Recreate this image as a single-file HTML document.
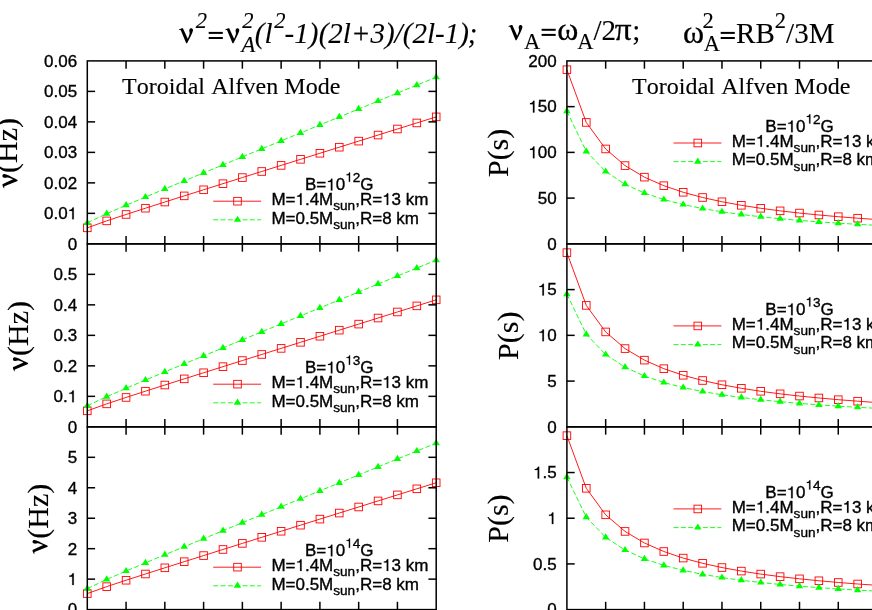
<!DOCTYPE html>
<html><head><meta charset="utf-8"><title>Toroidal Alfven Mode</title>
<style>html,body{margin:0;padding:0;background:#fff;overflow:hidden}svg{display:block;will-change:transform}text{font-kerning:none}text{fill:#000;stroke:#000;stroke-width:0.35px}text[font-family*="Serif"]{stroke-width:0.12px}</style>
</head><body>
<svg width="872" height="610" viewBox="0 0 872 610">
<rect width="100%" height="100%" fill="#fff"/>
<polyline fill="none" stroke="#ff0000" stroke-width="0.9" points="87.30,227.83 106.68,220.88 126.07,214.46 145.45,208.21 164.83,202.03 184.22,195.89 203.60,189.77 222.98,183.67 242.37,177.58 261.75,171.49 281.13,165.41 300.52,159.34 319.90,153.27 339.28,147.20 358.67,141.13 378.05,135.06 397.43,129.00 416.82,122.94 436.20,116.87"/>
<rect x="83.50" y="224.03" width="7.6" height="7.6" fill="none" stroke="#ff0000" stroke-width="0.9"/>
<rect x="102.88" y="217.08" width="7.6" height="7.6" fill="none" stroke="#ff0000" stroke-width="0.9"/>
<rect x="122.27" y="210.66" width="7.6" height="7.6" fill="none" stroke="#ff0000" stroke-width="0.9"/>
<rect x="141.65" y="204.41" width="7.6" height="7.6" fill="none" stroke="#ff0000" stroke-width="0.9"/>
<rect x="161.03" y="198.23" width="7.6" height="7.6" fill="none" stroke="#ff0000" stroke-width="0.9"/>
<rect x="180.42" y="192.09" width="7.6" height="7.6" fill="none" stroke="#ff0000" stroke-width="0.9"/>
<rect x="199.80" y="185.97" width="7.6" height="7.6" fill="none" stroke="#ff0000" stroke-width="0.9"/>
<rect x="219.18" y="179.87" width="7.6" height="7.6" fill="none" stroke="#ff0000" stroke-width="0.9"/>
<rect x="238.57" y="173.78" width="7.6" height="7.6" fill="none" stroke="#ff0000" stroke-width="0.9"/>
<rect x="257.95" y="167.69" width="7.6" height="7.6" fill="none" stroke="#ff0000" stroke-width="0.9"/>
<rect x="277.33" y="161.61" width="7.6" height="7.6" fill="none" stroke="#ff0000" stroke-width="0.9"/>
<rect x="296.72" y="155.54" width="7.6" height="7.6" fill="none" stroke="#ff0000" stroke-width="0.9"/>
<rect x="316.10" y="149.47" width="7.6" height="7.6" fill="none" stroke="#ff0000" stroke-width="0.9"/>
<rect x="335.48" y="143.40" width="7.6" height="7.6" fill="none" stroke="#ff0000" stroke-width="0.9"/>
<rect x="354.87" y="137.33" width="7.6" height="7.6" fill="none" stroke="#ff0000" stroke-width="0.9"/>
<rect x="374.25" y="131.26" width="7.6" height="7.6" fill="none" stroke="#ff0000" stroke-width="0.9"/>
<rect x="393.63" y="125.20" width="7.6" height="7.6" fill="none" stroke="#ff0000" stroke-width="0.9"/>
<rect x="413.02" y="119.14" width="7.6" height="7.6" fill="none" stroke="#ff0000" stroke-width="0.9"/>
<rect x="432.40" y="113.07" width="7.6" height="7.6" fill="none" stroke="#ff0000" stroke-width="0.9"/>
<polyline fill="none" stroke="#00ff00" stroke-width="0.9" stroke-dasharray="5 2.33" points="87.30,222.83 106.68,213.69 126.07,205.27 145.45,197.06 164.83,188.95 184.22,180.89 203.60,172.86 222.98,164.85 242.37,156.86 261.75,148.87 281.13,140.89 300.52,132.92 319.90,124.95 339.28,116.98 358.67,109.01 378.05,101.05 397.43,93.09 416.82,85.13 436.20,77.17"/>
<path d="M91.00 224.88l-3.7 -6.2l-3.7 6.2z" fill="#00ff00"/>
<path d="M110.38 215.74l-3.7 -6.2l-3.7 6.2z" fill="#00ff00"/>
<path d="M129.77 207.32l-3.7 -6.2l-3.7 6.2z" fill="#00ff00"/>
<path d="M149.15 199.11l-3.7 -6.2l-3.7 6.2z" fill="#00ff00"/>
<path d="M168.53 191.00l-3.7 -6.2l-3.7 6.2z" fill="#00ff00"/>
<path d="M187.92 182.94l-3.7 -6.2l-3.7 6.2z" fill="#00ff00"/>
<path d="M207.30 174.91l-3.7 -6.2l-3.7 6.2z" fill="#00ff00"/>
<path d="M226.68 166.90l-3.7 -6.2l-3.7 6.2z" fill="#00ff00"/>
<path d="M246.07 158.91l-3.7 -6.2l-3.7 6.2z" fill="#00ff00"/>
<path d="M265.45 150.92l-3.7 -6.2l-3.7 6.2z" fill="#00ff00"/>
<path d="M284.83 142.94l-3.7 -6.2l-3.7 6.2z" fill="#00ff00"/>
<path d="M304.22 134.97l-3.7 -6.2l-3.7 6.2z" fill="#00ff00"/>
<path d="M323.60 127.00l-3.7 -6.2l-3.7 6.2z" fill="#00ff00"/>
<path d="M342.98 119.03l-3.7 -6.2l-3.7 6.2z" fill="#00ff00"/>
<path d="M362.37 111.06l-3.7 -6.2l-3.7 6.2z" fill="#00ff00"/>
<path d="M381.75 103.10l-3.7 -6.2l-3.7 6.2z" fill="#00ff00"/>
<path d="M401.13 95.14l-3.7 -6.2l-3.7 6.2z" fill="#00ff00"/>
<path d="M420.52 87.18l-3.7 -6.2l-3.7 6.2z" fill="#00ff00"/>
<path d="M439.90 79.22l-3.7 -6.2l-3.7 6.2z" fill="#00ff00"/>
<text x="305.00" y="190.40" font-family='"Liberation Sans", sans-serif' font-size="17">B=</text>
<path d="M332.37 190.40L330.87 190.40L330.87 182.07L327.98 182.07L327.98 181.03C329.67 180.99 330.72 180.51 331.20 178.70L332.37 178.70Z" fill="#000" stroke="#000" stroke-width="0.2"/>
<text x="335.72" y="190.40" font-family='"Liberation Sans", sans-serif' font-size="17">0</text>
<path d="M350.06 181.80L348.86 181.80L348.86 175.14L346.55 175.14L346.55 174.30C347.90 174.27 348.74 173.88 349.12 172.44L350.06 172.44Z" fill="#000" stroke="#000" stroke-width="0.2"/>
<text x="352.74" y="181.80" font-family='"Liberation Sans", sans-serif' font-size="13.6">2</text>
<text x="360.30" y="190.40" font-family='"Liberation Sans", sans-serif' font-size="17">G</text>
<line x1="213.2" y1="201.2" x2="261.1" y2="201.2" stroke="#ff0000" stroke-width="0.9"/>
<rect x="233.70" y="197.40" width="7.6" height="7.6" fill="none" stroke="#ff0000" stroke-width="0.9"/>
<text x="271.40" y="205.00" font-family='"Liberation Sans", sans-serif' font-size="17">M=</text>
<path d="M301.59 205.00L300.10 205.00L300.10 196.67L297.21 196.67L297.21 195.63C298.89 195.59 299.95 195.11 300.42 193.30L301.59 193.30Z" fill="#000" stroke="#000" stroke-width="0.2"/>
<text x="304.94" y="205.00" font-family='"Liberation Sans", sans-serif' font-size="17">.4M</text>
<text x="333.28" y="210.20" font-family='"Liberation Sans", sans-serif' font-size="13.6">sun</text>
<text x="355.21" y="205.00" font-family='"Liberation Sans", sans-serif' font-size="17">,R=</text>
<path d="M388.24 205.00L386.74 205.00L386.74 196.67L383.86 196.67L383.86 195.63C385.54 195.59 386.59 195.11 387.07 193.30L388.24 193.30Z" fill="#000" stroke="#000" stroke-width="0.2"/>
<text x="391.59" y="205.00" font-family='"Liberation Sans", sans-serif' font-size="17">3 km</text>
<line x1="213.2" y1="219.8" x2="261.1" y2="219.8" stroke="#00ff00" stroke-width="0.9" stroke-dasharray="5 2.33"/>
<path d="M241.20 221.85l-3.7 -6.2l-3.7 6.2z" fill="#00ff00"/>
<text x="271.40" y="223.60" font-family='"Liberation Sans", sans-serif' font-size="17">M=0.5M</text>
<text x="333.28" y="228.80" font-family='"Liberation Sans", sans-serif' font-size="13.6">sun</text>
<text x="355.21" y="223.60" font-family='"Liberation Sans", sans-serif' font-size="17">,R=8 km</text>
<polyline fill="none" stroke="#ff0000" stroke-width="0.9" points="566.90,69.71 586.28,122.44 605.67,148.95 625.05,165.60 644.43,177.16 663.82,185.70 683.20,192.27 702.58,197.50 721.97,201.76 741.35,205.30 760.73,208.29 780.12,210.85 799.50,213.06 818.88,214.99 838.27,216.70 857.65,218.21 877.03,219.56 896.42,220.78 915.80,221.88"/>
<rect x="563.10" y="65.91" width="7.6" height="7.6" fill="none" stroke="#ff0000" stroke-width="0.9"/>
<rect x="582.48" y="118.64" width="7.6" height="7.6" fill="none" stroke="#ff0000" stroke-width="0.9"/>
<rect x="601.87" y="145.15" width="7.6" height="7.6" fill="none" stroke="#ff0000" stroke-width="0.9"/>
<rect x="621.25" y="161.80" width="7.6" height="7.6" fill="none" stroke="#ff0000" stroke-width="0.9"/>
<rect x="640.63" y="173.36" width="7.6" height="7.6" fill="none" stroke="#ff0000" stroke-width="0.9"/>
<rect x="660.02" y="181.90" width="7.6" height="7.6" fill="none" stroke="#ff0000" stroke-width="0.9"/>
<rect x="679.40" y="188.47" width="7.6" height="7.6" fill="none" stroke="#ff0000" stroke-width="0.9"/>
<rect x="698.78" y="193.70" width="7.6" height="7.6" fill="none" stroke="#ff0000" stroke-width="0.9"/>
<rect x="718.17" y="197.96" width="7.6" height="7.6" fill="none" stroke="#ff0000" stroke-width="0.9"/>
<rect x="737.55" y="201.50" width="7.6" height="7.6" fill="none" stroke="#ff0000" stroke-width="0.9"/>
<rect x="756.93" y="204.49" width="7.6" height="7.6" fill="none" stroke="#ff0000" stroke-width="0.9"/>
<rect x="776.32" y="207.05" width="7.6" height="7.6" fill="none" stroke="#ff0000" stroke-width="0.9"/>
<rect x="795.70" y="209.26" width="7.6" height="7.6" fill="none" stroke="#ff0000" stroke-width="0.9"/>
<rect x="815.08" y="211.19" width="7.6" height="7.6" fill="none" stroke="#ff0000" stroke-width="0.9"/>
<rect x="834.47" y="212.90" width="7.6" height="7.6" fill="none" stroke="#ff0000" stroke-width="0.9"/>
<rect x="853.85" y="214.41" width="7.6" height="7.6" fill="none" stroke="#ff0000" stroke-width="0.9"/>
<rect x="873.23" y="215.76" width="7.6" height="7.6" fill="none" stroke="#ff0000" stroke-width="0.9"/>
<rect x="892.62" y="216.98" width="7.6" height="7.6" fill="none" stroke="#ff0000" stroke-width="0.9"/>
<rect x="912.00" y="218.08" width="7.6" height="7.6" fill="none" stroke="#ff0000" stroke-width="0.9"/>
<polyline fill="none" stroke="#00ff00" stroke-width="0.9" stroke-dasharray="5 2.33" points="566.90,111.19 586.28,151.35 605.67,171.56 625.05,184.24 644.43,193.04 663.82,199.55 683.20,204.56 702.58,208.54 721.97,211.79 741.35,214.48 760.73,216.76 780.12,218.71 799.50,220.39 818.88,221.87 838.27,223.16 857.65,224.32 877.03,225.35 896.42,226.28 915.80,227.12"/>
<path d="M570.60 113.24l-3.7 -6.2l-3.7 6.2z" fill="#00ff00"/>
<path d="M589.98 153.40l-3.7 -6.2l-3.7 6.2z" fill="#00ff00"/>
<path d="M609.37 173.61l-3.7 -6.2l-3.7 6.2z" fill="#00ff00"/>
<path d="M628.75 186.29l-3.7 -6.2l-3.7 6.2z" fill="#00ff00"/>
<path d="M648.13 195.09l-3.7 -6.2l-3.7 6.2z" fill="#00ff00"/>
<path d="M667.52 201.60l-3.7 -6.2l-3.7 6.2z" fill="#00ff00"/>
<path d="M686.90 206.61l-3.7 -6.2l-3.7 6.2z" fill="#00ff00"/>
<path d="M706.28 210.59l-3.7 -6.2l-3.7 6.2z" fill="#00ff00"/>
<path d="M725.67 213.84l-3.7 -6.2l-3.7 6.2z" fill="#00ff00"/>
<path d="M745.05 216.53l-3.7 -6.2l-3.7 6.2z" fill="#00ff00"/>
<path d="M764.43 218.81l-3.7 -6.2l-3.7 6.2z" fill="#00ff00"/>
<path d="M783.82 220.76l-3.7 -6.2l-3.7 6.2z" fill="#00ff00"/>
<path d="M803.20 222.44l-3.7 -6.2l-3.7 6.2z" fill="#00ff00"/>
<path d="M822.58 223.92l-3.7 -6.2l-3.7 6.2z" fill="#00ff00"/>
<path d="M841.97 225.21l-3.7 -6.2l-3.7 6.2z" fill="#00ff00"/>
<path d="M861.35 226.37l-3.7 -6.2l-3.7 6.2z" fill="#00ff00"/>
<path d="M880.73 227.40l-3.7 -6.2l-3.7 6.2z" fill="#00ff00"/>
<path d="M900.12 228.33l-3.7 -6.2l-3.7 6.2z" fill="#00ff00"/>
<path d="M919.50 229.17l-3.7 -6.2l-3.7 6.2z" fill="#00ff00"/>
<text x="765.30" y="132.20" font-family='"Liberation Sans", sans-serif' font-size="17">B=</text>
<path d="M792.67 132.20L791.17 132.20L791.17 123.87L788.28 123.87L788.28 122.83C789.97 122.79 791.02 122.31 791.50 120.50L792.67 120.50Z" fill="#000" stroke="#000" stroke-width="0.2"/>
<text x="796.02" y="132.20" font-family='"Liberation Sans", sans-serif' font-size="17">0</text>
<path d="M810.36 123.60L809.16 123.60L809.16 116.94L806.85 116.94L806.85 116.10C808.20 116.07 809.04 115.68 809.42 114.24L810.36 114.24Z" fill="#000" stroke="#000" stroke-width="0.2"/>
<text x="813.04" y="123.60" font-family='"Liberation Sans", sans-serif' font-size="13.6">2</text>
<text x="820.60" y="132.20" font-family='"Liberation Sans", sans-serif' font-size="17">G</text>
<line x1="673.5" y1="143.0" x2="721.4" y2="143.0" stroke="#ff0000" stroke-width="0.9"/>
<rect x="694.00" y="139.20" width="7.6" height="7.6" fill="none" stroke="#ff0000" stroke-width="0.9"/>
<text x="731.70" y="146.80" font-family='"Liberation Sans", sans-serif' font-size="17">M=</text>
<path d="M761.89 146.80L760.40 146.80L760.40 138.47L757.51 138.47L757.51 137.43C759.19 137.39 760.25 136.91 760.72 135.10L761.89 135.10Z" fill="#000" stroke="#000" stroke-width="0.2"/>
<text x="765.24" y="146.80" font-family='"Liberation Sans", sans-serif' font-size="17">.4M</text>
<text x="793.58" y="152.00" font-family='"Liberation Sans", sans-serif' font-size="13.6">sun</text>
<text x="815.51" y="146.80" font-family='"Liberation Sans", sans-serif' font-size="17">,R=</text>
<path d="M848.54 146.80L847.04 146.80L847.04 138.47L844.16 138.47L844.16 137.43C845.84 137.39 846.89 136.91 847.37 135.10L848.54 135.10Z" fill="#000" stroke="#000" stroke-width="0.2"/>
<text x="851.89" y="146.80" font-family='"Liberation Sans", sans-serif' font-size="17">3 km</text>
<line x1="673.5" y1="161.6" x2="721.4" y2="161.6" stroke="#00ff00" stroke-width="0.9" stroke-dasharray="5 2.33"/>
<path d="M701.50 163.65l-3.7 -6.2l-3.7 6.2z" fill="#00ff00"/>
<text x="731.70" y="165.40" font-family='"Liberation Sans", sans-serif' font-size="17">M=0.5M</text>
<text x="793.58" y="170.60" font-family='"Liberation Sans", sans-serif' font-size="13.6">sun</text>
<text x="815.51" y="165.40" font-family='"Liberation Sans", sans-serif' font-size="17">,R=8 km</text>
<polyline fill="none" stroke="#ff0000" stroke-width="0.9" points="87.30,410.83 106.68,403.87 126.07,397.45 145.45,391.20 164.83,385.02 184.22,378.87 203.60,372.76 222.98,366.65 242.37,360.56 261.75,354.47 281.13,348.39 300.52,342.32 319.90,336.24 339.28,330.17 358.67,324.10 378.05,318.03 397.43,311.97 416.82,305.90 436.20,299.84"/>
<rect x="83.50" y="407.03" width="7.6" height="7.6" fill="none" stroke="#ff0000" stroke-width="0.9"/>
<rect x="102.88" y="400.07" width="7.6" height="7.6" fill="none" stroke="#ff0000" stroke-width="0.9"/>
<rect x="122.27" y="393.65" width="7.6" height="7.6" fill="none" stroke="#ff0000" stroke-width="0.9"/>
<rect x="141.65" y="387.40" width="7.6" height="7.6" fill="none" stroke="#ff0000" stroke-width="0.9"/>
<rect x="161.03" y="381.22" width="7.6" height="7.6" fill="none" stroke="#ff0000" stroke-width="0.9"/>
<rect x="180.42" y="375.07" width="7.6" height="7.6" fill="none" stroke="#ff0000" stroke-width="0.9"/>
<rect x="199.80" y="368.96" width="7.6" height="7.6" fill="none" stroke="#ff0000" stroke-width="0.9"/>
<rect x="219.18" y="362.85" width="7.6" height="7.6" fill="none" stroke="#ff0000" stroke-width="0.9"/>
<rect x="238.57" y="356.76" width="7.6" height="7.6" fill="none" stroke="#ff0000" stroke-width="0.9"/>
<rect x="257.95" y="350.67" width="7.6" height="7.6" fill="none" stroke="#ff0000" stroke-width="0.9"/>
<rect x="277.33" y="344.59" width="7.6" height="7.6" fill="none" stroke="#ff0000" stroke-width="0.9"/>
<rect x="296.72" y="338.52" width="7.6" height="7.6" fill="none" stroke="#ff0000" stroke-width="0.9"/>
<rect x="316.10" y="332.44" width="7.6" height="7.6" fill="none" stroke="#ff0000" stroke-width="0.9"/>
<rect x="335.48" y="326.37" width="7.6" height="7.6" fill="none" stroke="#ff0000" stroke-width="0.9"/>
<rect x="354.87" y="320.30" width="7.6" height="7.6" fill="none" stroke="#ff0000" stroke-width="0.9"/>
<rect x="374.25" y="314.23" width="7.6" height="7.6" fill="none" stroke="#ff0000" stroke-width="0.9"/>
<rect x="393.63" y="308.17" width="7.6" height="7.6" fill="none" stroke="#ff0000" stroke-width="0.9"/>
<rect x="413.02" y="302.10" width="7.6" height="7.6" fill="none" stroke="#ff0000" stroke-width="0.9"/>
<rect x="432.40" y="296.04" width="7.6" height="7.6" fill="none" stroke="#ff0000" stroke-width="0.9"/>
<polyline fill="none" stroke="#00ff00" stroke-width="0.9" stroke-dasharray="5 2.33" points="87.30,405.82 106.68,396.69 126.07,388.26 145.45,380.05 164.83,371.94 184.22,363.87 203.60,355.84 222.98,347.83 242.37,339.83 261.75,331.84 281.13,323.86 300.52,315.89 319.90,307.91 339.28,299.94 358.67,291.98 378.05,284.01 397.43,276.05 416.82,268.09 436.20,260.13"/>
<path d="M91.00 407.87l-3.7 -6.2l-3.7 6.2z" fill="#00ff00"/>
<path d="M110.38 398.74l-3.7 -6.2l-3.7 6.2z" fill="#00ff00"/>
<path d="M129.77 390.31l-3.7 -6.2l-3.7 6.2z" fill="#00ff00"/>
<path d="M149.15 382.10l-3.7 -6.2l-3.7 6.2z" fill="#00ff00"/>
<path d="M168.53 373.99l-3.7 -6.2l-3.7 6.2z" fill="#00ff00"/>
<path d="M187.92 365.92l-3.7 -6.2l-3.7 6.2z" fill="#00ff00"/>
<path d="M207.30 357.89l-3.7 -6.2l-3.7 6.2z" fill="#00ff00"/>
<path d="M226.68 349.88l-3.7 -6.2l-3.7 6.2z" fill="#00ff00"/>
<path d="M246.07 341.88l-3.7 -6.2l-3.7 6.2z" fill="#00ff00"/>
<path d="M265.45 333.89l-3.7 -6.2l-3.7 6.2z" fill="#00ff00"/>
<path d="M284.83 325.91l-3.7 -6.2l-3.7 6.2z" fill="#00ff00"/>
<path d="M304.22 317.94l-3.7 -6.2l-3.7 6.2z" fill="#00ff00"/>
<path d="M323.60 309.96l-3.7 -6.2l-3.7 6.2z" fill="#00ff00"/>
<path d="M342.98 301.99l-3.7 -6.2l-3.7 6.2z" fill="#00ff00"/>
<path d="M362.37 294.03l-3.7 -6.2l-3.7 6.2z" fill="#00ff00"/>
<path d="M381.75 286.06l-3.7 -6.2l-3.7 6.2z" fill="#00ff00"/>
<path d="M401.13 278.10l-3.7 -6.2l-3.7 6.2z" fill="#00ff00"/>
<path d="M420.52 270.14l-3.7 -6.2l-3.7 6.2z" fill="#00ff00"/>
<path d="M439.90 262.18l-3.7 -6.2l-3.7 6.2z" fill="#00ff00"/>
<text x="305.00" y="373.35" font-family='"Liberation Sans", sans-serif' font-size="17">B=</text>
<path d="M332.37 373.35L330.87 373.35L330.87 365.02L327.98 365.02L327.98 363.98C329.67 363.94 330.72 363.46 331.20 361.65L332.37 361.65Z" fill="#000" stroke="#000" stroke-width="0.2"/>
<text x="335.72" y="373.35" font-family='"Liberation Sans", sans-serif' font-size="17">0</text>
<path d="M350.06 364.75L348.86 364.75L348.86 358.09L346.55 358.09L346.55 357.25C347.90 357.22 348.74 356.83 349.12 355.39L350.06 355.39Z" fill="#000" stroke="#000" stroke-width="0.2"/>
<text x="352.74" y="364.75" font-family='"Liberation Sans", sans-serif' font-size="13.6">3</text>
<text x="360.30" y="373.35" font-family='"Liberation Sans", sans-serif' font-size="17">G</text>
<line x1="213.2" y1="384.2" x2="261.1" y2="384.2" stroke="#ff0000" stroke-width="0.9"/>
<rect x="233.70" y="380.35" width="7.6" height="7.6" fill="none" stroke="#ff0000" stroke-width="0.9"/>
<text x="271.40" y="387.95" font-family='"Liberation Sans", sans-serif' font-size="17">M=</text>
<path d="M301.59 387.95L300.10 387.95L300.10 379.62L297.21 379.62L297.21 378.58C298.89 378.54 299.95 378.06 300.42 376.25L301.59 376.25Z" fill="#000" stroke="#000" stroke-width="0.2"/>
<text x="304.94" y="387.95" font-family='"Liberation Sans", sans-serif' font-size="17">.4M</text>
<text x="333.28" y="393.15" font-family='"Liberation Sans", sans-serif' font-size="13.6">sun</text>
<text x="355.21" y="387.95" font-family='"Liberation Sans", sans-serif' font-size="17">,R=</text>
<path d="M388.24 387.95L386.74 387.95L386.74 379.62L383.86 379.62L383.86 378.58C385.54 378.54 386.59 378.06 387.07 376.25L388.24 376.25Z" fill="#000" stroke="#000" stroke-width="0.2"/>
<text x="391.59" y="387.95" font-family='"Liberation Sans", sans-serif' font-size="17">3 km</text>
<line x1="213.2" y1="402.8" x2="261.1" y2="402.8" stroke="#00ff00" stroke-width="0.9" stroke-dasharray="5 2.33"/>
<path d="M241.20 404.80l-3.7 -6.2l-3.7 6.2z" fill="#00ff00"/>
<text x="271.40" y="406.55" font-family='"Liberation Sans", sans-serif' font-size="17">M=0.5M</text>
<text x="333.28" y="411.75" font-family='"Liberation Sans", sans-serif' font-size="13.6">sun</text>
<text x="355.21" y="406.55" font-family='"Liberation Sans", sans-serif' font-size="17">,R=8 km</text>
<polyline fill="none" stroke="#ff0000" stroke-width="0.9" points="566.90,252.66 586.28,305.40 605.67,331.93 625.05,348.58 644.43,360.14 663.82,368.68 683.20,375.26 702.58,380.49 721.97,384.75 741.35,388.29 760.73,391.28 780.12,393.84 799.50,396.05 818.88,397.98 838.27,399.69 857.65,401.20 877.03,402.56 896.42,403.78 915.80,404.88"/>
<rect x="563.10" y="248.86" width="7.6" height="7.6" fill="none" stroke="#ff0000" stroke-width="0.9"/>
<rect x="582.48" y="301.60" width="7.6" height="7.6" fill="none" stroke="#ff0000" stroke-width="0.9"/>
<rect x="601.87" y="328.13" width="7.6" height="7.6" fill="none" stroke="#ff0000" stroke-width="0.9"/>
<rect x="621.25" y="344.78" width="7.6" height="7.6" fill="none" stroke="#ff0000" stroke-width="0.9"/>
<rect x="640.63" y="356.34" width="7.6" height="7.6" fill="none" stroke="#ff0000" stroke-width="0.9"/>
<rect x="660.02" y="364.88" width="7.6" height="7.6" fill="none" stroke="#ff0000" stroke-width="0.9"/>
<rect x="679.40" y="371.46" width="7.6" height="7.6" fill="none" stroke="#ff0000" stroke-width="0.9"/>
<rect x="698.78" y="376.69" width="7.6" height="7.6" fill="none" stroke="#ff0000" stroke-width="0.9"/>
<rect x="718.17" y="380.95" width="7.6" height="7.6" fill="none" stroke="#ff0000" stroke-width="0.9"/>
<rect x="737.55" y="384.49" width="7.6" height="7.6" fill="none" stroke="#ff0000" stroke-width="0.9"/>
<rect x="756.93" y="387.48" width="7.6" height="7.6" fill="none" stroke="#ff0000" stroke-width="0.9"/>
<rect x="776.32" y="390.04" width="7.6" height="7.6" fill="none" stroke="#ff0000" stroke-width="0.9"/>
<rect x="795.70" y="392.25" width="7.6" height="7.6" fill="none" stroke="#ff0000" stroke-width="0.9"/>
<rect x="815.08" y="394.18" width="7.6" height="7.6" fill="none" stroke="#ff0000" stroke-width="0.9"/>
<rect x="834.47" y="395.89" width="7.6" height="7.6" fill="none" stroke="#ff0000" stroke-width="0.9"/>
<rect x="853.85" y="397.40" width="7.6" height="7.6" fill="none" stroke="#ff0000" stroke-width="0.9"/>
<rect x="873.23" y="398.76" width="7.6" height="7.6" fill="none" stroke="#ff0000" stroke-width="0.9"/>
<rect x="892.62" y="399.98" width="7.6" height="7.6" fill="none" stroke="#ff0000" stroke-width="0.9"/>
<rect x="912.00" y="401.08" width="7.6" height="7.6" fill="none" stroke="#ff0000" stroke-width="0.9"/>
<polyline fill="none" stroke="#00ff00" stroke-width="0.9" stroke-dasharray="5 2.33" points="566.90,294.15 586.28,334.33 605.67,354.54 625.05,367.22 644.43,376.03 663.82,382.54 683.20,387.55 702.58,391.53 721.97,394.78 741.35,397.48 760.73,399.75 780.12,401.70 799.50,403.39 818.88,404.86 838.27,406.16 857.65,407.31 877.03,408.34 896.42,409.27 915.80,410.11"/>
<path d="M570.60 296.20l-3.7 -6.2l-3.7 6.2z" fill="#00ff00"/>
<path d="M589.98 336.38l-3.7 -6.2l-3.7 6.2z" fill="#00ff00"/>
<path d="M609.37 356.59l-3.7 -6.2l-3.7 6.2z" fill="#00ff00"/>
<path d="M628.75 369.27l-3.7 -6.2l-3.7 6.2z" fill="#00ff00"/>
<path d="M648.13 378.08l-3.7 -6.2l-3.7 6.2z" fill="#00ff00"/>
<path d="M667.52 384.59l-3.7 -6.2l-3.7 6.2z" fill="#00ff00"/>
<path d="M686.90 389.60l-3.7 -6.2l-3.7 6.2z" fill="#00ff00"/>
<path d="M706.28 393.58l-3.7 -6.2l-3.7 6.2z" fill="#00ff00"/>
<path d="M725.67 396.83l-3.7 -6.2l-3.7 6.2z" fill="#00ff00"/>
<path d="M745.05 399.53l-3.7 -6.2l-3.7 6.2z" fill="#00ff00"/>
<path d="M764.43 401.80l-3.7 -6.2l-3.7 6.2z" fill="#00ff00"/>
<path d="M783.82 403.75l-3.7 -6.2l-3.7 6.2z" fill="#00ff00"/>
<path d="M803.20 405.44l-3.7 -6.2l-3.7 6.2z" fill="#00ff00"/>
<path d="M822.58 406.91l-3.7 -6.2l-3.7 6.2z" fill="#00ff00"/>
<path d="M841.97 408.21l-3.7 -6.2l-3.7 6.2z" fill="#00ff00"/>
<path d="M861.35 409.36l-3.7 -6.2l-3.7 6.2z" fill="#00ff00"/>
<path d="M880.73 410.39l-3.7 -6.2l-3.7 6.2z" fill="#00ff00"/>
<path d="M900.12 411.32l-3.7 -6.2l-3.7 6.2z" fill="#00ff00"/>
<path d="M919.50 412.16l-3.7 -6.2l-3.7 6.2z" fill="#00ff00"/>
<text x="765.30" y="315.15" font-family='"Liberation Sans", sans-serif' font-size="17">B=</text>
<path d="M792.67 315.15L791.17 315.15L791.17 306.82L788.28 306.82L788.28 305.78C789.97 305.74 791.02 305.26 791.50 303.45L792.67 303.45Z" fill="#000" stroke="#000" stroke-width="0.2"/>
<text x="796.02" y="315.15" font-family='"Liberation Sans", sans-serif' font-size="17">0</text>
<path d="M810.36 306.55L809.16 306.55L809.16 299.89L806.85 299.89L806.85 299.05C808.20 299.02 809.04 298.63 809.42 297.19L810.36 297.19Z" fill="#000" stroke="#000" stroke-width="0.2"/>
<text x="813.04" y="306.55" font-family='"Liberation Sans", sans-serif' font-size="13.6">3</text>
<text x="820.60" y="315.15" font-family='"Liberation Sans", sans-serif' font-size="17">G</text>
<line x1="673.5" y1="325.9" x2="721.4" y2="325.9" stroke="#ff0000" stroke-width="0.9"/>
<rect x="694.00" y="322.15" width="7.6" height="7.6" fill="none" stroke="#ff0000" stroke-width="0.9"/>
<text x="731.70" y="329.75" font-family='"Liberation Sans", sans-serif' font-size="17">M=</text>
<path d="M761.89 329.75L760.40 329.75L760.40 321.42L757.51 321.42L757.51 320.38C759.19 320.34 760.25 319.86 760.72 318.05L761.89 318.05Z" fill="#000" stroke="#000" stroke-width="0.2"/>
<text x="765.24" y="329.75" font-family='"Liberation Sans", sans-serif' font-size="17">.4M</text>
<text x="793.58" y="334.95" font-family='"Liberation Sans", sans-serif' font-size="13.6">sun</text>
<text x="815.51" y="329.75" font-family='"Liberation Sans", sans-serif' font-size="17">,R=</text>
<path d="M848.54 329.75L847.04 329.75L847.04 321.42L844.16 321.42L844.16 320.38C845.84 320.34 846.89 319.86 847.37 318.05L848.54 318.05Z" fill="#000" stroke="#000" stroke-width="0.2"/>
<text x="851.89" y="329.75" font-family='"Liberation Sans", sans-serif' font-size="17">3 km</text>
<line x1="673.5" y1="344.6" x2="721.4" y2="344.6" stroke="#00ff00" stroke-width="0.9" stroke-dasharray="5 2.33"/>
<path d="M701.50 346.60l-3.7 -6.2l-3.7 6.2z" fill="#00ff00"/>
<text x="731.70" y="348.35" font-family='"Liberation Sans", sans-serif' font-size="17">M=0.5M</text>
<text x="793.58" y="353.55" font-family='"Liberation Sans", sans-serif' font-size="13.6">sun</text>
<text x="815.51" y="348.35" font-family='"Liberation Sans", sans-serif' font-size="17">,R=8 km</text>
<polyline fill="none" stroke="#ff0000" stroke-width="0.9" points="87.30,593.60 106.68,586.65 126.07,580.24 145.45,573.99 164.83,567.82 184.22,561.69 203.60,555.58 222.98,549.48 242.37,543.40 261.75,537.32 281.13,531.25 300.52,525.18 319.90,519.12 339.28,513.05 358.67,506.99 378.05,500.93 397.43,494.88 416.82,488.82 436.20,482.76"/>
<rect x="83.50" y="589.80" width="7.6" height="7.6" fill="none" stroke="#ff0000" stroke-width="0.9"/>
<rect x="102.88" y="582.85" width="7.6" height="7.6" fill="none" stroke="#ff0000" stroke-width="0.9"/>
<rect x="122.27" y="576.44" width="7.6" height="7.6" fill="none" stroke="#ff0000" stroke-width="0.9"/>
<rect x="141.65" y="570.19" width="7.6" height="7.6" fill="none" stroke="#ff0000" stroke-width="0.9"/>
<rect x="161.03" y="564.02" width="7.6" height="7.6" fill="none" stroke="#ff0000" stroke-width="0.9"/>
<rect x="180.42" y="557.89" width="7.6" height="7.6" fill="none" stroke="#ff0000" stroke-width="0.9"/>
<rect x="199.80" y="551.78" width="7.6" height="7.6" fill="none" stroke="#ff0000" stroke-width="0.9"/>
<rect x="219.18" y="545.68" width="7.6" height="7.6" fill="none" stroke="#ff0000" stroke-width="0.9"/>
<rect x="238.57" y="539.60" width="7.6" height="7.6" fill="none" stroke="#ff0000" stroke-width="0.9"/>
<rect x="257.95" y="533.52" width="7.6" height="7.6" fill="none" stroke="#ff0000" stroke-width="0.9"/>
<rect x="277.33" y="527.45" width="7.6" height="7.6" fill="none" stroke="#ff0000" stroke-width="0.9"/>
<rect x="296.72" y="521.38" width="7.6" height="7.6" fill="none" stroke="#ff0000" stroke-width="0.9"/>
<rect x="316.10" y="515.32" width="7.6" height="7.6" fill="none" stroke="#ff0000" stroke-width="0.9"/>
<rect x="335.48" y="509.25" width="7.6" height="7.6" fill="none" stroke="#ff0000" stroke-width="0.9"/>
<rect x="354.87" y="503.19" width="7.6" height="7.6" fill="none" stroke="#ff0000" stroke-width="0.9"/>
<rect x="374.25" y="497.13" width="7.6" height="7.6" fill="none" stroke="#ff0000" stroke-width="0.9"/>
<rect x="393.63" y="491.08" width="7.6" height="7.6" fill="none" stroke="#ff0000" stroke-width="0.9"/>
<rect x="413.02" y="485.02" width="7.6" height="7.6" fill="none" stroke="#ff0000" stroke-width="0.9"/>
<rect x="432.40" y="478.96" width="7.6" height="7.6" fill="none" stroke="#ff0000" stroke-width="0.9"/>
<polyline fill="none" stroke="#00ff00" stroke-width="0.9" stroke-dasharray="5 2.33" points="87.30,588.60 106.68,579.48 126.07,571.06 145.45,562.86 164.83,554.76 184.22,546.71 203.60,538.69 222.98,530.69 242.37,522.70 261.75,514.72 281.13,506.75 300.52,498.79 319.90,490.83 339.28,482.87 358.67,474.91 378.05,466.96 397.43,459.01 416.82,451.06 436.20,443.11"/>
<path d="M91.00 590.65l-3.7 -6.2l-3.7 6.2z" fill="#00ff00"/>
<path d="M110.38 581.53l-3.7 -6.2l-3.7 6.2z" fill="#00ff00"/>
<path d="M129.77 573.11l-3.7 -6.2l-3.7 6.2z" fill="#00ff00"/>
<path d="M149.15 564.91l-3.7 -6.2l-3.7 6.2z" fill="#00ff00"/>
<path d="M168.53 556.81l-3.7 -6.2l-3.7 6.2z" fill="#00ff00"/>
<path d="M187.92 548.76l-3.7 -6.2l-3.7 6.2z" fill="#00ff00"/>
<path d="M207.30 540.74l-3.7 -6.2l-3.7 6.2z" fill="#00ff00"/>
<path d="M226.68 532.74l-3.7 -6.2l-3.7 6.2z" fill="#00ff00"/>
<path d="M246.07 524.75l-3.7 -6.2l-3.7 6.2z" fill="#00ff00"/>
<path d="M265.45 516.77l-3.7 -6.2l-3.7 6.2z" fill="#00ff00"/>
<path d="M284.83 508.80l-3.7 -6.2l-3.7 6.2z" fill="#00ff00"/>
<path d="M304.22 500.84l-3.7 -6.2l-3.7 6.2z" fill="#00ff00"/>
<path d="M323.60 492.88l-3.7 -6.2l-3.7 6.2z" fill="#00ff00"/>
<path d="M342.98 484.92l-3.7 -6.2l-3.7 6.2z" fill="#00ff00"/>
<path d="M362.37 476.96l-3.7 -6.2l-3.7 6.2z" fill="#00ff00"/>
<path d="M381.75 469.01l-3.7 -6.2l-3.7 6.2z" fill="#00ff00"/>
<path d="M401.13 461.06l-3.7 -6.2l-3.7 6.2z" fill="#00ff00"/>
<path d="M420.52 453.11l-3.7 -6.2l-3.7 6.2z" fill="#00ff00"/>
<path d="M439.90 445.16l-3.7 -6.2l-3.7 6.2z" fill="#00ff00"/>
<text x="305.00" y="556.35" font-family='"Liberation Sans", sans-serif' font-size="17">B=</text>
<path d="M332.37 556.35L330.87 556.35L330.87 548.02L327.98 548.02L327.98 546.98C329.67 546.94 330.72 546.46 331.20 544.65L332.37 544.65Z" fill="#000" stroke="#000" stroke-width="0.2"/>
<text x="335.72" y="556.35" font-family='"Liberation Sans", sans-serif' font-size="17">0</text>
<path d="M350.06 547.75L348.86 547.75L348.86 541.09L346.55 541.09L346.55 540.25C347.90 540.22 348.74 539.83 349.12 538.39L350.06 538.39Z" fill="#000" stroke="#000" stroke-width="0.2"/>
<text x="352.74" y="547.75" font-family='"Liberation Sans", sans-serif' font-size="13.6">4</text>
<text x="360.30" y="556.35" font-family='"Liberation Sans", sans-serif' font-size="17">G</text>
<line x1="213.2" y1="567.2" x2="261.1" y2="567.2" stroke="#ff0000" stroke-width="0.9"/>
<rect x="233.70" y="563.35" width="7.6" height="7.6" fill="none" stroke="#ff0000" stroke-width="0.9"/>
<text x="271.40" y="570.95" font-family='"Liberation Sans", sans-serif' font-size="17">M=</text>
<path d="M301.59 570.95L300.10 570.95L300.10 562.62L297.21 562.62L297.21 561.58C298.89 561.54 299.95 561.06 300.42 559.25L301.59 559.25Z" fill="#000" stroke="#000" stroke-width="0.2"/>
<text x="304.94" y="570.95" font-family='"Liberation Sans", sans-serif' font-size="17">.4M</text>
<text x="333.28" y="576.15" font-family='"Liberation Sans", sans-serif' font-size="13.6">sun</text>
<text x="355.21" y="570.95" font-family='"Liberation Sans", sans-serif' font-size="17">,R=</text>
<path d="M388.24 570.95L386.74 570.95L386.74 562.62L383.86 562.62L383.86 561.58C385.54 561.54 386.59 561.06 387.07 559.25L388.24 559.25Z" fill="#000" stroke="#000" stroke-width="0.2"/>
<text x="391.59" y="570.95" font-family='"Liberation Sans", sans-serif' font-size="17">3 km</text>
<line x1="213.2" y1="585.8" x2="261.1" y2="585.8" stroke="#00ff00" stroke-width="0.9" stroke-dasharray="5 2.33"/>
<path d="M241.20 587.80l-3.7 -6.2l-3.7 6.2z" fill="#00ff00"/>
<text x="271.40" y="589.55" font-family='"Liberation Sans", sans-serif' font-size="17">M=0.5M</text>
<text x="333.28" y="594.75" font-family='"Liberation Sans", sans-serif' font-size="13.6">sun</text>
<text x="355.21" y="589.55" font-family='"Liberation Sans", sans-serif' font-size="17">,R=8 km</text>
<polyline fill="none" stroke="#ff0000" stroke-width="0.9" points="566.90,435.65 586.28,488.32 605.67,514.81 625.05,531.43 644.43,542.98 663.82,551.51 683.20,558.08 702.58,563.30 721.97,567.56 741.35,571.09 760.73,574.08 780.12,576.63 799.50,578.84 818.88,580.77 838.27,582.48 857.65,583.99 877.03,585.34 896.42,586.56 915.80,587.66"/>
<rect x="563.10" y="431.85" width="7.6" height="7.6" fill="none" stroke="#ff0000" stroke-width="0.9"/>
<rect x="582.48" y="484.52" width="7.6" height="7.6" fill="none" stroke="#ff0000" stroke-width="0.9"/>
<rect x="601.87" y="511.01" width="7.6" height="7.6" fill="none" stroke="#ff0000" stroke-width="0.9"/>
<rect x="621.25" y="527.63" width="7.6" height="7.6" fill="none" stroke="#ff0000" stroke-width="0.9"/>
<rect x="640.63" y="539.18" width="7.6" height="7.6" fill="none" stroke="#ff0000" stroke-width="0.9"/>
<rect x="660.02" y="547.71" width="7.6" height="7.6" fill="none" stroke="#ff0000" stroke-width="0.9"/>
<rect x="679.40" y="554.28" width="7.6" height="7.6" fill="none" stroke="#ff0000" stroke-width="0.9"/>
<rect x="698.78" y="559.50" width="7.6" height="7.6" fill="none" stroke="#ff0000" stroke-width="0.9"/>
<rect x="718.17" y="563.76" width="7.6" height="7.6" fill="none" stroke="#ff0000" stroke-width="0.9"/>
<rect x="737.55" y="567.29" width="7.6" height="7.6" fill="none" stroke="#ff0000" stroke-width="0.9"/>
<rect x="756.93" y="570.28" width="7.6" height="7.6" fill="none" stroke="#ff0000" stroke-width="0.9"/>
<rect x="776.32" y="572.83" width="7.6" height="7.6" fill="none" stroke="#ff0000" stroke-width="0.9"/>
<rect x="795.70" y="575.04" width="7.6" height="7.6" fill="none" stroke="#ff0000" stroke-width="0.9"/>
<rect x="815.08" y="576.97" width="7.6" height="7.6" fill="none" stroke="#ff0000" stroke-width="0.9"/>
<rect x="834.47" y="578.68" width="7.6" height="7.6" fill="none" stroke="#ff0000" stroke-width="0.9"/>
<rect x="853.85" y="580.19" width="7.6" height="7.6" fill="none" stroke="#ff0000" stroke-width="0.9"/>
<rect x="873.23" y="581.54" width="7.6" height="7.6" fill="none" stroke="#ff0000" stroke-width="0.9"/>
<rect x="892.62" y="582.76" width="7.6" height="7.6" fill="none" stroke="#ff0000" stroke-width="0.9"/>
<rect x="912.00" y="583.86" width="7.6" height="7.6" fill="none" stroke="#ff0000" stroke-width="0.9"/>
<polyline fill="none" stroke="#00ff00" stroke-width="0.9" stroke-dasharray="5 2.33" points="566.90,477.08 586.28,517.21 605.67,537.38 625.05,550.05 644.43,558.85 663.82,565.35 683.20,570.35 702.58,574.33 721.97,577.57 741.35,580.27 760.73,582.54 780.12,584.48 799.50,586.17 818.88,587.64 838.27,588.94 857.65,590.09 877.03,591.12 896.42,592.05 915.80,592.88"/>
<path d="M570.60 479.13l-3.7 -6.2l-3.7 6.2z" fill="#00ff00"/>
<path d="M589.98 519.26l-3.7 -6.2l-3.7 6.2z" fill="#00ff00"/>
<path d="M609.37 539.43l-3.7 -6.2l-3.7 6.2z" fill="#00ff00"/>
<path d="M628.75 552.10l-3.7 -6.2l-3.7 6.2z" fill="#00ff00"/>
<path d="M648.13 560.90l-3.7 -6.2l-3.7 6.2z" fill="#00ff00"/>
<path d="M667.52 567.40l-3.7 -6.2l-3.7 6.2z" fill="#00ff00"/>
<path d="M686.90 572.40l-3.7 -6.2l-3.7 6.2z" fill="#00ff00"/>
<path d="M706.28 576.38l-3.7 -6.2l-3.7 6.2z" fill="#00ff00"/>
<path d="M725.67 579.62l-3.7 -6.2l-3.7 6.2z" fill="#00ff00"/>
<path d="M745.05 582.32l-3.7 -6.2l-3.7 6.2z" fill="#00ff00"/>
<path d="M764.43 584.59l-3.7 -6.2l-3.7 6.2z" fill="#00ff00"/>
<path d="M783.82 586.53l-3.7 -6.2l-3.7 6.2z" fill="#00ff00"/>
<path d="M803.20 588.22l-3.7 -6.2l-3.7 6.2z" fill="#00ff00"/>
<path d="M822.58 589.69l-3.7 -6.2l-3.7 6.2z" fill="#00ff00"/>
<path d="M841.97 590.99l-3.7 -6.2l-3.7 6.2z" fill="#00ff00"/>
<path d="M861.35 592.14l-3.7 -6.2l-3.7 6.2z" fill="#00ff00"/>
<path d="M880.73 593.17l-3.7 -6.2l-3.7 6.2z" fill="#00ff00"/>
<path d="M900.12 594.10l-3.7 -6.2l-3.7 6.2z" fill="#00ff00"/>
<path d="M919.50 594.93l-3.7 -6.2l-3.7 6.2z" fill="#00ff00"/>
<text x="765.30" y="498.15" font-family='"Liberation Sans", sans-serif' font-size="17">B=</text>
<path d="M792.67 498.15L791.17 498.15L791.17 489.82L788.28 489.82L788.28 488.78C789.97 488.74 791.02 488.26 791.50 486.45L792.67 486.45Z" fill="#000" stroke="#000" stroke-width="0.2"/>
<text x="796.02" y="498.15" font-family='"Liberation Sans", sans-serif' font-size="17">0</text>
<path d="M810.36 489.55L809.16 489.55L809.16 482.89L806.85 482.89L806.85 482.05C808.20 482.02 809.04 481.63 809.42 480.19L810.36 480.19Z" fill="#000" stroke="#000" stroke-width="0.2"/>
<text x="813.04" y="489.55" font-family='"Liberation Sans", sans-serif' font-size="13.6">4</text>
<text x="820.60" y="498.15" font-family='"Liberation Sans", sans-serif' font-size="17">G</text>
<line x1="673.5" y1="508.9" x2="721.4" y2="508.9" stroke="#ff0000" stroke-width="0.9"/>
<rect x="694.00" y="505.15" width="7.6" height="7.6" fill="none" stroke="#ff0000" stroke-width="0.9"/>
<text x="731.70" y="512.75" font-family='"Liberation Sans", sans-serif' font-size="17">M=</text>
<path d="M761.89 512.75L760.40 512.75L760.40 504.42L757.51 504.42L757.51 503.38C759.19 503.34 760.25 502.86 760.72 501.05L761.89 501.05Z" fill="#000" stroke="#000" stroke-width="0.2"/>
<text x="765.24" y="512.75" font-family='"Liberation Sans", sans-serif' font-size="17">.4M</text>
<text x="793.58" y="517.95" font-family='"Liberation Sans", sans-serif' font-size="13.6">sun</text>
<text x="815.51" y="512.75" font-family='"Liberation Sans", sans-serif' font-size="17">,R=</text>
<path d="M848.54 512.75L847.04 512.75L847.04 504.42L844.16 504.42L844.16 503.38C845.84 503.34 846.89 502.86 847.37 501.05L848.54 501.05Z" fill="#000" stroke="#000" stroke-width="0.2"/>
<text x="851.89" y="512.75" font-family='"Liberation Sans", sans-serif' font-size="17">3 km</text>
<line x1="673.5" y1="527.6" x2="721.4" y2="527.6" stroke="#00ff00" stroke-width="0.9" stroke-dasharray="5 2.33"/>
<path d="M701.50 529.60l-3.7 -6.2l-3.7 6.2z" fill="#00ff00"/>
<text x="731.70" y="531.35" font-family='"Liberation Sans", sans-serif' font-size="17">M=0.5M</text>
<text x="793.58" y="536.55" font-family='"Liberation Sans", sans-serif' font-size="13.6">sun</text>
<text x="815.51" y="531.35" font-family='"Liberation Sans", sans-serif' font-size="17">,R=8 km</text>
<rect x="87.30" y="60.90" width="348.90" height="182.95" fill="none" stroke="#000000" stroke-width="1.5"/>
<line x1="126.07" y1="243.85" x2="126.07" y2="236.05" stroke="#000000" stroke-width="1.5"/>
<line x1="126.07" y1="60.90" x2="126.07" y2="68.70" stroke="#000000" stroke-width="1.5"/>
<line x1="164.83" y1="243.85" x2="164.83" y2="236.05" stroke="#000000" stroke-width="1.5"/>
<line x1="164.83" y1="60.90" x2="164.83" y2="68.70" stroke="#000000" stroke-width="1.5"/>
<line x1="203.60" y1="243.85" x2="203.60" y2="236.05" stroke="#000000" stroke-width="1.5"/>
<line x1="203.60" y1="60.90" x2="203.60" y2="68.70" stroke="#000000" stroke-width="1.5"/>
<line x1="242.37" y1="243.85" x2="242.37" y2="236.05" stroke="#000000" stroke-width="1.5"/>
<line x1="242.37" y1="60.90" x2="242.37" y2="68.70" stroke="#000000" stroke-width="1.5"/>
<line x1="281.13" y1="243.85" x2="281.13" y2="236.05" stroke="#000000" stroke-width="1.5"/>
<line x1="281.13" y1="60.90" x2="281.13" y2="68.70" stroke="#000000" stroke-width="1.5"/>
<line x1="319.90" y1="243.85" x2="319.90" y2="236.05" stroke="#000000" stroke-width="1.5"/>
<line x1="319.90" y1="60.90" x2="319.90" y2="68.70" stroke="#000000" stroke-width="1.5"/>
<line x1="358.67" y1="243.85" x2="358.67" y2="236.05" stroke="#000000" stroke-width="1.5"/>
<line x1="358.67" y1="60.90" x2="358.67" y2="68.70" stroke="#000000" stroke-width="1.5"/>
<line x1="397.43" y1="243.85" x2="397.43" y2="236.05" stroke="#000000" stroke-width="1.5"/>
<line x1="397.43" y1="60.90" x2="397.43" y2="68.70" stroke="#000000" stroke-width="1.5"/>
<text x="67.65" y="249.70" font-family='"Liberation Sans", sans-serif' font-size="17">0</text>
<line x1="87.30" y1="213.36" x2="95.10" y2="213.36" stroke="#000000" stroke-width="1.5"/>
<line x1="436.20" y1="213.36" x2="428.40" y2="213.36" stroke="#000000" stroke-width="1.5"/>
<text x="44.01" y="219.21" font-family='"Liberation Sans", sans-serif' font-size="17">0.0</text>
<path d="M73.75 219.21L72.25 219.21L72.25 210.88L69.36 210.88L69.36 209.84C71.05 209.80 72.10 209.31 72.58 207.51L73.75 207.51Z" fill="#000" stroke="#000" stroke-width="0.2"/>
<line x1="87.30" y1="182.87" x2="95.10" y2="182.87" stroke="#000000" stroke-width="1.5"/>
<line x1="436.20" y1="182.87" x2="428.40" y2="182.87" stroke="#000000" stroke-width="1.5"/>
<text x="44.01" y="188.72" font-family='"Liberation Sans", sans-serif' font-size="17">0.02</text>
<line x1="87.30" y1="152.38" x2="95.10" y2="152.38" stroke="#000000" stroke-width="1.5"/>
<line x1="436.20" y1="152.38" x2="428.40" y2="152.38" stroke="#000000" stroke-width="1.5"/>
<text x="44.01" y="158.22" font-family='"Liberation Sans", sans-serif' font-size="17">0.03</text>
<line x1="87.30" y1="121.88" x2="95.10" y2="121.88" stroke="#000000" stroke-width="1.5"/>
<line x1="436.20" y1="121.88" x2="428.40" y2="121.88" stroke="#000000" stroke-width="1.5"/>
<text x="44.01" y="127.73" font-family='"Liberation Sans", sans-serif' font-size="17">0.04</text>
<line x1="87.30" y1="91.39" x2="95.10" y2="91.39" stroke="#000000" stroke-width="1.5"/>
<line x1="436.20" y1="91.39" x2="428.40" y2="91.39" stroke="#000000" stroke-width="1.5"/>
<text x="44.01" y="97.24" font-family='"Liberation Sans", sans-serif' font-size="17">0.05</text>
<text x="44.01" y="66.75" font-family='"Liberation Sans", sans-serif' font-size="17">0.06</text>
<rect x="566.90" y="60.90" width="348.90" height="182.95" fill="none" stroke="#000000" stroke-width="1.5"/>
<line x1="605.67" y1="243.85" x2="605.67" y2="236.05" stroke="#000000" stroke-width="1.5"/>
<line x1="605.67" y1="60.90" x2="605.67" y2="68.70" stroke="#000000" stroke-width="1.5"/>
<line x1="644.43" y1="243.85" x2="644.43" y2="236.05" stroke="#000000" stroke-width="1.5"/>
<line x1="644.43" y1="60.90" x2="644.43" y2="68.70" stroke="#000000" stroke-width="1.5"/>
<line x1="683.20" y1="243.85" x2="683.20" y2="236.05" stroke="#000000" stroke-width="1.5"/>
<line x1="683.20" y1="60.90" x2="683.20" y2="68.70" stroke="#000000" stroke-width="1.5"/>
<line x1="721.97" y1="243.85" x2="721.97" y2="236.05" stroke="#000000" stroke-width="1.5"/>
<line x1="721.97" y1="60.90" x2="721.97" y2="68.70" stroke="#000000" stroke-width="1.5"/>
<line x1="760.73" y1="243.85" x2="760.73" y2="236.05" stroke="#000000" stroke-width="1.5"/>
<line x1="760.73" y1="60.90" x2="760.73" y2="68.70" stroke="#000000" stroke-width="1.5"/>
<line x1="799.50" y1="243.85" x2="799.50" y2="236.05" stroke="#000000" stroke-width="1.5"/>
<line x1="799.50" y1="60.90" x2="799.50" y2="68.70" stroke="#000000" stroke-width="1.5"/>
<line x1="838.27" y1="243.85" x2="838.27" y2="236.05" stroke="#000000" stroke-width="1.5"/>
<line x1="838.27" y1="60.90" x2="838.27" y2="68.70" stroke="#000000" stroke-width="1.5"/>
<line x1="877.03" y1="243.85" x2="877.03" y2="236.05" stroke="#000000" stroke-width="1.5"/>
<line x1="877.03" y1="60.90" x2="877.03" y2="68.70" stroke="#000000" stroke-width="1.5"/>
<text x="547.25" y="249.70" font-family='"Liberation Sans", sans-serif' font-size="17">0</text>
<line x1="566.90" y1="198.11" x2="574.70" y2="198.11" stroke="#000000" stroke-width="1.5"/>
<line x1="915.80" y1="198.11" x2="908.00" y2="198.11" stroke="#000000" stroke-width="1.5"/>
<text x="537.79" y="203.96" font-family='"Liberation Sans", sans-serif' font-size="17">50</text>
<line x1="566.90" y1="152.38" x2="574.70" y2="152.38" stroke="#000000" stroke-width="1.5"/>
<line x1="915.80" y1="152.38" x2="908.00" y2="152.38" stroke="#000000" stroke-width="1.5"/>
<path d="M534.44 158.22L532.94 158.22L532.94 149.90L530.05 149.90L530.05 148.85C531.74 148.81 532.79 148.33 533.27 146.53L534.44 146.53Z" fill="#000" stroke="#000" stroke-width="0.2"/>
<text x="537.79" y="158.22" font-family='"Liberation Sans", sans-serif' font-size="17">00</text>
<line x1="566.90" y1="106.64" x2="574.70" y2="106.64" stroke="#000000" stroke-width="1.5"/>
<line x1="915.80" y1="106.64" x2="908.00" y2="106.64" stroke="#000000" stroke-width="1.5"/>
<path d="M534.44 112.49L532.94 112.49L532.94 104.16L530.05 104.16L530.05 103.12C531.74 103.07 532.79 102.59 533.27 100.79L534.44 100.79Z" fill="#000" stroke="#000" stroke-width="0.2"/>
<text x="537.79" y="112.49" font-family='"Liberation Sans", sans-serif' font-size="17">50</text>
<text x="528.34" y="66.75" font-family='"Liberation Sans", sans-serif' font-size="17">200</text>
<rect x="87.30" y="243.85" width="348.90" height="183.00" fill="none" stroke="#000000" stroke-width="1.5"/>
<line x1="126.07" y1="426.85" x2="126.07" y2="419.05" stroke="#000000" stroke-width="1.5"/>
<line x1="126.07" y1="243.85" x2="126.07" y2="251.65" stroke="#000000" stroke-width="1.5"/>
<line x1="164.83" y1="426.85" x2="164.83" y2="419.05" stroke="#000000" stroke-width="1.5"/>
<line x1="164.83" y1="243.85" x2="164.83" y2="251.65" stroke="#000000" stroke-width="1.5"/>
<line x1="203.60" y1="426.85" x2="203.60" y2="419.05" stroke="#000000" stroke-width="1.5"/>
<line x1="203.60" y1="243.85" x2="203.60" y2="251.65" stroke="#000000" stroke-width="1.5"/>
<line x1="242.37" y1="426.85" x2="242.37" y2="419.05" stroke="#000000" stroke-width="1.5"/>
<line x1="242.37" y1="243.85" x2="242.37" y2="251.65" stroke="#000000" stroke-width="1.5"/>
<line x1="281.13" y1="426.85" x2="281.13" y2="419.05" stroke="#000000" stroke-width="1.5"/>
<line x1="281.13" y1="243.85" x2="281.13" y2="251.65" stroke="#000000" stroke-width="1.5"/>
<line x1="319.90" y1="426.85" x2="319.90" y2="419.05" stroke="#000000" stroke-width="1.5"/>
<line x1="319.90" y1="243.85" x2="319.90" y2="251.65" stroke="#000000" stroke-width="1.5"/>
<line x1="358.67" y1="426.85" x2="358.67" y2="419.05" stroke="#000000" stroke-width="1.5"/>
<line x1="358.67" y1="243.85" x2="358.67" y2="251.65" stroke="#000000" stroke-width="1.5"/>
<line x1="397.43" y1="426.85" x2="397.43" y2="419.05" stroke="#000000" stroke-width="1.5"/>
<line x1="397.43" y1="243.85" x2="397.43" y2="251.65" stroke="#000000" stroke-width="1.5"/>
<text x="67.65" y="432.70" font-family='"Liberation Sans", sans-serif' font-size="17">0</text>
<line x1="87.30" y1="396.35" x2="95.10" y2="396.35" stroke="#000000" stroke-width="1.5"/>
<line x1="436.20" y1="396.35" x2="428.40" y2="396.35" stroke="#000000" stroke-width="1.5"/>
<text x="53.47" y="402.20" font-family='"Liberation Sans", sans-serif' font-size="17">0.</text>
<path d="M73.75 402.20L72.25 402.20L72.25 393.87L69.36 393.87L69.36 392.83C71.05 392.79 72.10 392.31 72.58 390.50L73.75 390.50Z" fill="#000" stroke="#000" stroke-width="0.2"/>
<line x1="87.30" y1="365.85" x2="95.10" y2="365.85" stroke="#000000" stroke-width="1.5"/>
<line x1="436.20" y1="365.85" x2="428.40" y2="365.85" stroke="#000000" stroke-width="1.5"/>
<text x="53.47" y="371.70" font-family='"Liberation Sans", sans-serif' font-size="17">0.2</text>
<line x1="87.30" y1="335.35" x2="95.10" y2="335.35" stroke="#000000" stroke-width="1.5"/>
<line x1="436.20" y1="335.35" x2="428.40" y2="335.35" stroke="#000000" stroke-width="1.5"/>
<text x="53.47" y="341.20" font-family='"Liberation Sans", sans-serif' font-size="17">0.3</text>
<line x1="87.30" y1="304.85" x2="95.10" y2="304.85" stroke="#000000" stroke-width="1.5"/>
<line x1="436.20" y1="304.85" x2="428.40" y2="304.85" stroke="#000000" stroke-width="1.5"/>
<text x="53.47" y="310.70" font-family='"Liberation Sans", sans-serif' font-size="17">0.4</text>
<line x1="87.30" y1="274.35" x2="95.10" y2="274.35" stroke="#000000" stroke-width="1.5"/>
<line x1="436.20" y1="274.35" x2="428.40" y2="274.35" stroke="#000000" stroke-width="1.5"/>
<text x="53.47" y="280.20" font-family='"Liberation Sans", sans-serif' font-size="17">0.5</text>
<rect x="566.90" y="243.85" width="348.90" height="183.00" fill="none" stroke="#000000" stroke-width="1.5"/>
<line x1="605.67" y1="426.85" x2="605.67" y2="419.05" stroke="#000000" stroke-width="1.5"/>
<line x1="605.67" y1="243.85" x2="605.67" y2="251.65" stroke="#000000" stroke-width="1.5"/>
<line x1="644.43" y1="426.85" x2="644.43" y2="419.05" stroke="#000000" stroke-width="1.5"/>
<line x1="644.43" y1="243.85" x2="644.43" y2="251.65" stroke="#000000" stroke-width="1.5"/>
<line x1="683.20" y1="426.85" x2="683.20" y2="419.05" stroke="#000000" stroke-width="1.5"/>
<line x1="683.20" y1="243.85" x2="683.20" y2="251.65" stroke="#000000" stroke-width="1.5"/>
<line x1="721.97" y1="426.85" x2="721.97" y2="419.05" stroke="#000000" stroke-width="1.5"/>
<line x1="721.97" y1="243.85" x2="721.97" y2="251.65" stroke="#000000" stroke-width="1.5"/>
<line x1="760.73" y1="426.85" x2="760.73" y2="419.05" stroke="#000000" stroke-width="1.5"/>
<line x1="760.73" y1="243.85" x2="760.73" y2="251.65" stroke="#000000" stroke-width="1.5"/>
<line x1="799.50" y1="426.85" x2="799.50" y2="419.05" stroke="#000000" stroke-width="1.5"/>
<line x1="799.50" y1="243.85" x2="799.50" y2="251.65" stroke="#000000" stroke-width="1.5"/>
<line x1="838.27" y1="426.85" x2="838.27" y2="419.05" stroke="#000000" stroke-width="1.5"/>
<line x1="838.27" y1="243.85" x2="838.27" y2="251.65" stroke="#000000" stroke-width="1.5"/>
<line x1="877.03" y1="426.85" x2="877.03" y2="419.05" stroke="#000000" stroke-width="1.5"/>
<line x1="877.03" y1="243.85" x2="877.03" y2="251.65" stroke="#000000" stroke-width="1.5"/>
<text x="547.25" y="432.70" font-family='"Liberation Sans", sans-serif' font-size="17">0</text>
<line x1="566.90" y1="381.10" x2="574.70" y2="381.10" stroke="#000000" stroke-width="1.5"/>
<line x1="915.80" y1="381.10" x2="908.00" y2="381.10" stroke="#000000" stroke-width="1.5"/>
<text x="547.25" y="386.95" font-family='"Liberation Sans", sans-serif' font-size="17">5</text>
<line x1="566.90" y1="335.35" x2="574.70" y2="335.35" stroke="#000000" stroke-width="1.5"/>
<line x1="915.80" y1="335.35" x2="908.00" y2="335.35" stroke="#000000" stroke-width="1.5"/>
<path d="M543.89 341.20L542.40 341.20L542.40 332.87L539.51 332.87L539.51 331.83C541.19 331.79 542.25 331.31 542.72 329.50L543.89 329.50Z" fill="#000" stroke="#000" stroke-width="0.2"/>
<text x="547.25" y="341.20" font-family='"Liberation Sans", sans-serif' font-size="17">0</text>
<line x1="566.90" y1="289.60" x2="574.70" y2="289.60" stroke="#000000" stroke-width="1.5"/>
<line x1="915.80" y1="289.60" x2="908.00" y2="289.60" stroke="#000000" stroke-width="1.5"/>
<path d="M543.89 295.45L542.40 295.45L542.40 287.12L539.51 287.12L539.51 286.08C541.19 286.04 542.25 285.56 542.72 283.75L543.89 283.75Z" fill="#000" stroke="#000" stroke-width="0.2"/>
<text x="547.25" y="295.45" font-family='"Liberation Sans", sans-serif' font-size="17">5</text>
<rect x="87.30" y="426.85" width="348.90" height="182.75" fill="none" stroke="#000000" stroke-width="1.5"/>
<line x1="126.07" y1="609.60" x2="126.07" y2="601.80" stroke="#000000" stroke-width="1.5"/>
<line x1="126.07" y1="426.85" x2="126.07" y2="434.65" stroke="#000000" stroke-width="1.5"/>
<line x1="164.83" y1="609.60" x2="164.83" y2="601.80" stroke="#000000" stroke-width="1.5"/>
<line x1="164.83" y1="426.85" x2="164.83" y2="434.65" stroke="#000000" stroke-width="1.5"/>
<line x1="203.60" y1="609.60" x2="203.60" y2="601.80" stroke="#000000" stroke-width="1.5"/>
<line x1="203.60" y1="426.85" x2="203.60" y2="434.65" stroke="#000000" stroke-width="1.5"/>
<line x1="242.37" y1="609.60" x2="242.37" y2="601.80" stroke="#000000" stroke-width="1.5"/>
<line x1="242.37" y1="426.85" x2="242.37" y2="434.65" stroke="#000000" stroke-width="1.5"/>
<line x1="281.13" y1="609.60" x2="281.13" y2="601.80" stroke="#000000" stroke-width="1.5"/>
<line x1="281.13" y1="426.85" x2="281.13" y2="434.65" stroke="#000000" stroke-width="1.5"/>
<line x1="319.90" y1="609.60" x2="319.90" y2="601.80" stroke="#000000" stroke-width="1.5"/>
<line x1="319.90" y1="426.85" x2="319.90" y2="434.65" stroke="#000000" stroke-width="1.5"/>
<line x1="358.67" y1="609.60" x2="358.67" y2="601.80" stroke="#000000" stroke-width="1.5"/>
<line x1="358.67" y1="426.85" x2="358.67" y2="434.65" stroke="#000000" stroke-width="1.5"/>
<line x1="397.43" y1="609.60" x2="397.43" y2="601.80" stroke="#000000" stroke-width="1.5"/>
<line x1="397.43" y1="426.85" x2="397.43" y2="434.65" stroke="#000000" stroke-width="1.5"/>
<text x="67.65" y="615.45" font-family='"Liberation Sans", sans-serif' font-size="17">0</text>
<line x1="87.30" y1="579.14" x2="95.10" y2="579.14" stroke="#000000" stroke-width="1.5"/>
<line x1="436.20" y1="579.14" x2="428.40" y2="579.14" stroke="#000000" stroke-width="1.5"/>
<path d="M73.75 584.99L72.25 584.99L72.25 576.67L69.36 576.67L69.36 575.62C71.05 575.58 72.10 575.10 72.58 573.30L73.75 573.30Z" fill="#000" stroke="#000" stroke-width="0.2"/>
<line x1="87.30" y1="548.68" x2="95.10" y2="548.68" stroke="#000000" stroke-width="1.5"/>
<line x1="436.20" y1="548.68" x2="428.40" y2="548.68" stroke="#000000" stroke-width="1.5"/>
<text x="67.65" y="554.53" font-family='"Liberation Sans", sans-serif' font-size="17">2</text>
<line x1="87.30" y1="518.23" x2="95.10" y2="518.23" stroke="#000000" stroke-width="1.5"/>
<line x1="436.20" y1="518.23" x2="428.40" y2="518.23" stroke="#000000" stroke-width="1.5"/>
<text x="67.65" y="524.08" font-family='"Liberation Sans", sans-serif' font-size="17">3</text>
<line x1="87.30" y1="487.77" x2="95.10" y2="487.77" stroke="#000000" stroke-width="1.5"/>
<line x1="436.20" y1="487.77" x2="428.40" y2="487.77" stroke="#000000" stroke-width="1.5"/>
<text x="67.65" y="493.62" font-family='"Liberation Sans", sans-serif' font-size="17">4</text>
<line x1="87.30" y1="457.31" x2="95.10" y2="457.31" stroke="#000000" stroke-width="1.5"/>
<line x1="436.20" y1="457.31" x2="428.40" y2="457.31" stroke="#000000" stroke-width="1.5"/>
<text x="67.65" y="463.16" font-family='"Liberation Sans", sans-serif' font-size="17">5</text>
<rect x="566.90" y="426.85" width="348.90" height="182.75" fill="none" stroke="#000000" stroke-width="1.5"/>
<line x1="605.67" y1="609.60" x2="605.67" y2="601.80" stroke="#000000" stroke-width="1.5"/>
<line x1="605.67" y1="426.85" x2="605.67" y2="434.65" stroke="#000000" stroke-width="1.5"/>
<line x1="644.43" y1="609.60" x2="644.43" y2="601.80" stroke="#000000" stroke-width="1.5"/>
<line x1="644.43" y1="426.85" x2="644.43" y2="434.65" stroke="#000000" stroke-width="1.5"/>
<line x1="683.20" y1="609.60" x2="683.20" y2="601.80" stroke="#000000" stroke-width="1.5"/>
<line x1="683.20" y1="426.85" x2="683.20" y2="434.65" stroke="#000000" stroke-width="1.5"/>
<line x1="721.97" y1="609.60" x2="721.97" y2="601.80" stroke="#000000" stroke-width="1.5"/>
<line x1="721.97" y1="426.85" x2="721.97" y2="434.65" stroke="#000000" stroke-width="1.5"/>
<line x1="760.73" y1="609.60" x2="760.73" y2="601.80" stroke="#000000" stroke-width="1.5"/>
<line x1="760.73" y1="426.85" x2="760.73" y2="434.65" stroke="#000000" stroke-width="1.5"/>
<line x1="799.50" y1="609.60" x2="799.50" y2="601.80" stroke="#000000" stroke-width="1.5"/>
<line x1="799.50" y1="426.85" x2="799.50" y2="434.65" stroke="#000000" stroke-width="1.5"/>
<line x1="838.27" y1="609.60" x2="838.27" y2="601.80" stroke="#000000" stroke-width="1.5"/>
<line x1="838.27" y1="426.85" x2="838.27" y2="434.65" stroke="#000000" stroke-width="1.5"/>
<line x1="877.03" y1="609.60" x2="877.03" y2="601.80" stroke="#000000" stroke-width="1.5"/>
<line x1="877.03" y1="426.85" x2="877.03" y2="434.65" stroke="#000000" stroke-width="1.5"/>
<text x="547.25" y="615.45" font-family='"Liberation Sans", sans-serif' font-size="17">0</text>
<line x1="566.90" y1="563.91" x2="574.70" y2="563.91" stroke="#000000" stroke-width="1.5"/>
<line x1="915.80" y1="563.91" x2="908.00" y2="563.91" stroke="#000000" stroke-width="1.5"/>
<text x="533.07" y="569.76" font-family='"Liberation Sans", sans-serif' font-size="17">0.5</text>
<line x1="566.90" y1="518.23" x2="574.70" y2="518.23" stroke="#000000" stroke-width="1.5"/>
<line x1="915.80" y1="518.23" x2="908.00" y2="518.23" stroke="#000000" stroke-width="1.5"/>
<path d="M553.35 524.08L551.85 524.08L551.85 515.75L548.96 515.75L548.96 514.70C550.65 514.66 551.70 514.18 552.18 512.38L553.35 512.38Z" fill="#000" stroke="#000" stroke-width="0.2"/>
<line x1="566.90" y1="472.54" x2="574.70" y2="472.54" stroke="#000000" stroke-width="1.5"/>
<line x1="915.80" y1="472.54" x2="908.00" y2="472.54" stroke="#000000" stroke-width="1.5"/>
<path d="M539.17 478.39L537.67 478.39L537.67 470.06L534.79 470.06L534.79 469.02C536.47 468.97 537.53 468.49 538.00 466.69L539.17 466.69Z" fill="#000" stroke="#000" stroke-width="0.2"/>
<text x="542.52" y="478.39" font-family='"Liberation Sans", sans-serif' font-size="17">.5</text>
<text x="121.9" y="94.4" font-family='"Liberation Serif", serif' font-size="24" textLength="218.6" lengthAdjust="spacing">Toroidal Alfven Mode</text>
<text x="631.9" y="94.4" font-family='"Liberation Serif", serif' font-size="24" textLength="218.6" lengthAdjust="spacing">Toroidal Alfven Mode</text>
<path transform="translate(178.90,43.20) scale(1)" d="M 0,-13.5 C 1.2,-14.5 2.6,-15.0 4.0,-15.0 L 8.9,-4.4 C 9.6,-6.0 10.6,-8.2 10.7,-9.6 C 10.9,-11.0 10.2,-12.0 10.4,-13.2 C 10.6,-14.6 11.6,-15.1 12.4,-15.0 C 13.6,-14.9 14.2,-14.0 14.1,-12.9 C 13.9,-11.0 12.0,-7.2 8.2,0.15 L 7.3,0.15 L 1.9,-13.0 C 1.2,-13.4 0.6,-13.3 0,-13.0 Z" fill="#000"/>
<text x="195.79" y="27.70" font-family='"Liberation Serif", serif' font-size="22.5" font-style="italic">2</text>
<rect x="208.70" y="31.90" width="14.10" height="2.0" fill="#000"/>
<rect x="208.70" y="37.00" width="14.10" height="2.0" fill="#000"/>
<path transform="translate(225.20,43.20) scale(1)" d="M 0,-13.5 C 1.2,-14.5 2.6,-15.0 4.0,-15.0 L 8.9,-4.4 C 9.6,-6.0 10.6,-8.2 10.7,-9.6 C 10.9,-11.0 10.2,-12.0 10.4,-13.2 C 10.6,-14.6 11.6,-15.1 12.4,-15.0 C 13.6,-14.9 14.2,-14.0 14.1,-12.9 C 13.9,-11.0 12.0,-7.2 8.2,0.15 L 7.3,0.15 L 1.9,-13.0 C 1.2,-13.4 0.6,-13.3 0,-13.0 Z" fill="#000"/>
<text x="242.19" y="27.70" font-family='"Liberation Serif", serif' font-size="22.5" font-style="italic">2</text>
<text x="241.43" y="51.60" font-family='"Liberation Serif", serif' font-size="22.5" font-style="italic">A</text>
<text x="254.78" y="43.20" font-family='"Liberation Serif", serif' font-size="29" font-style="italic">(l</text>
<text x="274.19" y="27.70" font-family='"Liberation Serif", serif' font-size="22.5" font-style="italic">2</text>
<text x="284.52" y="43.20" font-family='"Liberation Serif", serif' font-size="29" font-style="italic">-1)</text>
<text x="318.68" y="43.20" font-family='"Liberation Serif", serif' font-size="29" font-style="italic">(2l+3)/</text>
<text x="402.78" y="43.20" font-family='"Liberation Serif", serif' font-size="29" font-style="italic">(2l-1)</text>
<text x="467.75" y="43.20" font-family='"Liberation Serif", serif' font-size="29" font-style="italic">;</text>
<path transform="translate(508.30,40.10) scale(1)" d="M 0,-13.5 C 1.2,-14.5 2.6,-15.0 4.0,-15.0 L 8.9,-4.4 C 9.6,-6.0 10.6,-8.2 10.7,-9.6 C 10.9,-11.0 10.2,-12.0 10.4,-13.2 C 10.6,-14.6 11.6,-15.1 12.4,-15.0 C 13.6,-14.9 14.2,-14.0 14.1,-12.9 C 13.9,-11.0 12.0,-7.2 8.2,0.15 L 7.3,0.15 L 1.9,-13.0 C 1.2,-13.4 0.6,-13.3 0,-13.0 Z" fill="#000"/>
<text x="523.88" y="48.50" font-family='"Liberation Serif", serif' font-size="22.5">A</text>
<rect x="541.60" y="28.80" width="14.10" height="2.0" fill="#000"/>
<rect x="541.60" y="33.90" width="14.10" height="2.0" fill="#000"/>
<text x="557.25" y="40.10" font-family='"Liberation Serif", serif' font-size="32" style="stroke-width:0.3px">ω</text>
<text x="577.28" y="48.50" font-family='"Liberation Serif", serif' font-size="22.5">A</text>
<text x="593.50" y="40.10" font-family='"Liberation Serif", serif' font-size="29">/2</text>
<text transform="translate(614.75,40.10) scale(1.04,1)" font-family='"Liberation Serif", serif' font-size="32" style="stroke-width:0.3px">π</text>
<text x="632.30" y="40.10" font-family='"Liberation Serif", serif' font-size="29">;</text>
<text x="683.05" y="43.20" font-family='"Liberation Serif", serif' font-size="32" style="stroke-width:0.3px">ω</text>
<text x="702.41" y="28.20" font-family='"Liberation Serif", serif' font-size="22.5">2</text>
<text x="703.68" y="51.40" font-family='"Liberation Serif", serif' font-size="22.5">A</text>
<rect x="720.70" y="31.90" width="14.10" height="2.0" fill="#000"/>
<rect x="720.70" y="37.00" width="14.10" height="2.0" fill="#000"/>
<text x="736.06" y="43.20" font-family='"Liberation Serif", serif' font-size="29">RB</text>
<text x="774.81" y="28.20" font-family='"Liberation Serif", serif' font-size="22.5">2</text>
<text x="786.10" y="43.20" font-family='"Liberation Serif", serif' font-size="29">/3M</text>
<g transform="translate(17.40,153.20) rotate(-90)">
<path transform="translate(-35.00,0.00) scale(1)" d="M 0,-13.5 C 1.2,-14.5 2.6,-15.0 4.0,-15.0 L 8.9,-4.4 C 9.6,-6.0 10.6,-8.2 10.7,-9.6 C 10.9,-11.0 10.2,-12.0 10.4,-13.2 C 10.6,-14.6 11.6,-15.1 12.4,-15.0 C 13.6,-14.9 14.2,-14.0 14.1,-12.9 C 13.9,-11.0 12.0,-7.2 8.2,0.15 L 7.3,0.15 L 1.9,-13.0 C 1.2,-13.4 0.6,-13.3 0,-13.0 Z" fill="#000"/>
<text x="-19.72" y="0.00" font-family='"Liberation Serif", serif' font-size="30">(Hz)</text>
</g>
<g transform="translate(27.90,336.30) rotate(-90)">
<path transform="translate(-35.00,0.00) scale(1)" d="M 0,-13.5 C 1.2,-14.5 2.6,-15.0 4.0,-15.0 L 8.9,-4.4 C 9.6,-6.0 10.6,-8.2 10.7,-9.6 C 10.9,-11.0 10.2,-12.0 10.4,-13.2 C 10.6,-14.6 11.6,-15.1 12.4,-15.0 C 13.6,-14.9 14.2,-14.0 14.1,-12.9 C 13.9,-11.0 12.0,-7.2 8.2,0.15 L 7.3,0.15 L 1.9,-13.0 C 1.2,-13.4 0.6,-13.3 0,-13.0 Z" fill="#000"/>
<text x="-19.72" y="0.00" font-family='"Liberation Serif", serif' font-size="30">(Hz)</text>
</g>
<g transform="translate(47.50,519.00) rotate(-90)">
<path transform="translate(-35.00,0.00) scale(1)" d="M 0,-13.5 C 1.2,-14.5 2.6,-15.0 4.0,-15.0 L 8.9,-4.4 C 9.6,-6.0 10.6,-8.2 10.7,-9.6 C 10.9,-11.0 10.2,-12.0 10.4,-13.2 C 10.6,-14.6 11.6,-15.1 12.4,-15.0 C 13.6,-14.9 14.2,-14.0 14.1,-12.9 C 13.9,-11.0 12.0,-7.2 8.2,0.15 L 7.3,0.15 L 1.9,-13.0 C 1.2,-13.4 0.6,-13.3 0,-13.0 Z" fill="#000"/>
<text x="-19.72" y="0.00" font-family='"Liberation Serif", serif' font-size="30">(Hz)</text>
</g>
<g transform="translate(508.00,152.70) rotate(-90)">
<text x="-24.36" y="0.00" font-family='"Liberation Serif", serif' font-size="30">P(s)</text>
</g>
<g transform="translate(517.90,335.60) rotate(-90)">
<text x="-24.36" y="0.00" font-family='"Liberation Serif", serif' font-size="30">P(s)</text>
</g>
<g transform="translate(508.00,518.40) rotate(-90)">
<text x="-24.36" y="0.00" font-family='"Liberation Serif", serif' font-size="30">P(s)</text>
</g>
</svg>
</body></html>
